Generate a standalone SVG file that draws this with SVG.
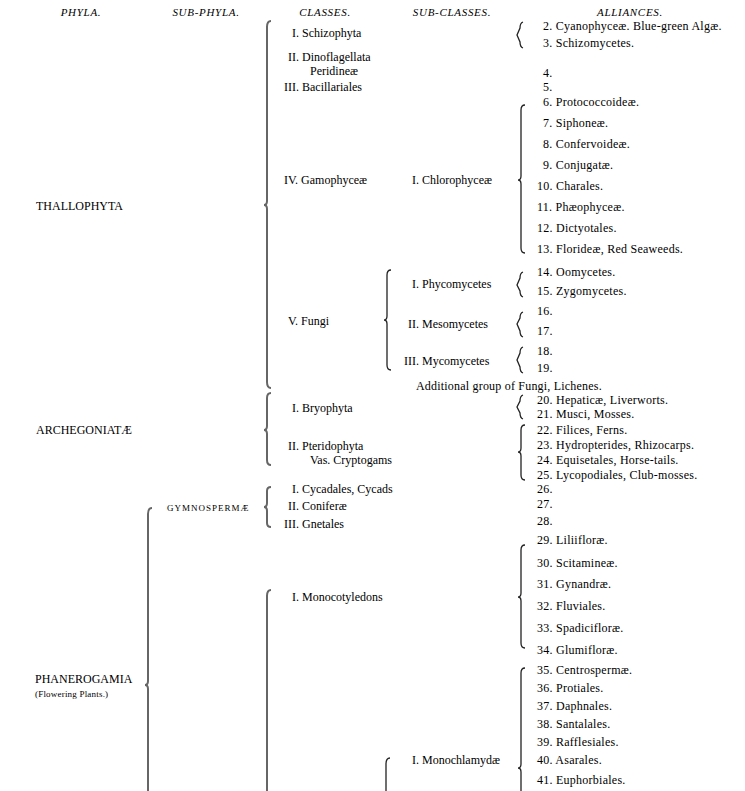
<svg xmlns="http://www.w3.org/2000/svg" width="745" height="791" viewBox="0 0 745 791">
<defs>
<style>
text{font-family:"Liberation Serif","Times New Roman",serif;font-size:12px;fill:#000}
.h{font-style:italic;font-size:11px;letter-spacing:0.7px;text-anchor:middle}
.sm{font-size:9px;letter-spacing:0.6px}
.al text{letter-spacing:0.25px}
.big{fill:none;stroke:#666;stroke-width:2}
.br{fill:none;stroke:#222;stroke-width:1.3}
</style>
</defs>
<rect width="745" height="791" fill="#fff"/>
<g id="headers">
<text class="h" x="81" y="16">PHYLA.</text>
<text class="h" x="206" y="16">SUB-PHYLA.</text>
<text class="h" x="325" y="16">CLASSES.</text>
<text class="h" x="452" y="16">SUB-CLASSES.</text>
<text class="h" x="630" y="16">ALLIANCES.</text>
</g>
<g id="connectors">
<path class="big" d="M271,21 Q267,21 267,27 L267,201 Q267,205 264,205 Q267,205 267,209 L267,382 Q267,388 271,388"/>
<path class="big" d="M271,393 Q267,393 267,398 L267,426 Q267,430 264,430 Q267,430 267,434 L267,460 Q267,465 271,465"/>
<path class="big" d="M271,487 Q267,487 267,491 L267,503 Q267,507 264,507 Q267,507 267,511 L267,523 Q267,527 271,527"/>
<path class="big" d="M152,508 Q148,508 148,514 L148,681 Q148,685 145,685 Q148,685 148,689 L148,856 Q148,862 152,862"/>
<path class="big" d="M271,590 Q267,590 267,596 L267,800"/>
<path class="br" d="M391,270 Q387,270 387,275 L387,316 Q387,320 384,320 Q387,320 387,324 L387,365 Q387,370 391,370"/>
<path class="br" d="M390,758 Q386,758 386,764 L386,800"/>
<path class="br" d="M523,22 Q520,23 520,28 L517,35 L520,42 Q520,47 523,48"/>
<path class="br" d="M525,105 Q521,105 521,110 L521,176 Q521,180 518,180 Q521,180 521,184 L521,248 Q521,253 525,253"/>
<path class="br" d="M523,272 Q520,273 520,278 L517,285 L520,291 Q520,296 523,297"/>
<path class="br" d="M523,312 Q520,313 520,318 L517,324 L520,331 Q520,336 523,337"/>
<path class="br" d="M523,347 Q520,348 520,353 L517,360 L520,367 Q520,372 523,373"/>
<path class="br" d="M523,395 Q520,396 520,401 L517,407 L520,413 Q520,418 523,419"/>
<path class="br" d="M525,425 Q521,425 521,430 L521,448 Q521,452 518,452 Q521,452 521,456 L521,475 Q521,480 525,480"/>
<path class="br" d="M525,545 Q521,545 521,550 L521,593 Q521,597 518,597 Q521,597 521,601 L521,643 Q521,648 525,648"/>
<path class="br" d="M525,668 Q521,668 521,673 L521,764 Q521,768 518,768 Q521,768 521,772 L521,800"/>
</g>
<g id="phyla">
<text x="36" y="210">THALLOPHYTA</text>
<text x="36" y="434">ARCHEGONIATÆ</text>
<text x="35" y="683">PHANEROGAMIA</text>
<text class="sm" x="35" y="697" style="letter-spacing:0.2px">(Flowering Plants.)</text>
</g>
<g id="subphyla">
<text class="sm" x="167" y="511" style="letter-spacing:1px">GYMNOSPERMÆ</text>
</g>
<g id="classes">
<text x="292" y="37">I. Schizophyta</text>
<text x="288" y="61">II. Dinoflagellata</text>
<text x="310" y="75">Peridineæ</text>
<text x="284" y="91">III. Bacillariales</text>
<text x="284" y="184">IV. Gamophyceæ</text>
<text x="288" y="325">V. Fungi</text>
<text x="292" y="412">I. Bryophyta</text>
<text x="288" y="450">II. Pteridophyta</text>
<text x="310" y="464">Vas. Cryptogams</text>
<text x="292" y="493">I. Cycadales, Cycads</text>
<text x="288" y="510">II. Coniferæ</text>
<text x="284" y="528">III. Gnetales</text>
<text x="292" y="601">I. Monocotyledons</text>
</g>
<g id="subclasses">
<text x="412" y="184">I. Chlorophyceæ</text>
<text x="412" y="288">I. Phycomycetes</text>
<text x="408" y="328">II. Mesomycetes</text>
<text x="404" y="365">III. Mycomycetes</text>
<text x="416" y="390" style="letter-spacing:0.2px">Additional group of Fungi, Lichenes.</text>
<text x="412" y="764">I. Monochlamydæ</text>
</g>
<g id="alliances" class="al">
<text x="543" y="30">2. Cyanophyceæ. Blue-green Algæ.</text>
<text x="543" y="47">3. Schizomycetes.</text>
<text x="543" y="77">4.</text>
<text x="543" y="91">5.</text>
<text x="543" y="106">6. Protococcoideæ.</text>
<text x="543" y="127">7. Siphoneæ.</text>
<text x="543" y="148">8. Confervoideæ.</text>
<text x="543" y="169">9. Conjugatæ.</text>
<text x="537" y="190">10. Charales.</text>
<text x="537" y="211">11. Phæophyceæ.</text>
<text x="537" y="232">12. Dictyotales.</text>
<text x="537" y="253">13. Florideæ, Red Seaweeds.</text>
<text x="537" y="276">14. Oomycetes.</text>
<text x="537" y="295">15. Zygomycetes.</text>
<text x="537" y="315">16.</text>
<text x="537" y="335">17.</text>
<text x="537" y="355">18.</text>
<text x="537" y="372">19.</text>
<text x="537" y="404">20. Hepaticæ, Liverworts.</text>
<text x="537" y="418">21. Musci, Mosses.</text>
<text x="537" y="434">22. Filices, Ferns.</text>
<text x="537" y="449">23. Hydropterides, Rhizocarps.</text>
<text x="537" y="464">24. Equisetales, Horse-tails.</text>
<text x="537" y="479">25. Lycopodiales, Club-mosses.</text>
<text x="537" y="493">26.</text>
<text x="537" y="508">27.</text>
<text x="537" y="525">28.</text>
<text x="537" y="544">29. Liliifloræ.</text>
<text x="537" y="567">30. Scitamineæ.</text>
<text x="537" y="588">31. Gynandræ.</text>
<text x="537" y="610">32. Fluviales.</text>
<text x="537" y="632">33. Spadicifloræ.</text>
<text x="537" y="654">34. Glumifloræ.</text>
<text x="537" y="674">35. Centrospermæ.</text>
<text x="537" y="692">36. Protiales.</text>
<text x="537" y="710">37. Daphnales.</text>
<text x="537" y="728">38. Santalales.</text>
<text x="537" y="746">39. Rafflesiales.</text>
<text x="537" y="764">40. Asarales.</text>
<text x="537" y="784">41. Euphorbiales.</text>
</g>
</svg>
